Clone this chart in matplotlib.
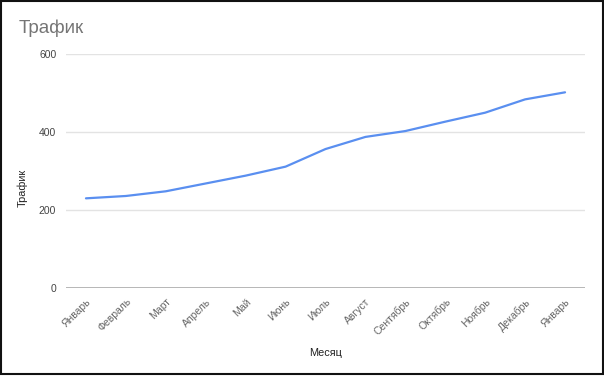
import matplotlib.pyplot as plt
from matplotlib.patches import Rectangle

plt.rcParams['font.family'] = ['Liberation Sans', 'DejaVu Sans']

months = ['Январь', 'Февраль', 'Март', 'Апрель', 'Май', 'Июнь', 'Июль',
          'Август', 'Сентябрь', 'Октябрь', 'Ноябрь', 'Декабрь', 'Январь']
traffic = [230, 236, 248, 268, 288, 311, 356, 387, 402, 426, 449, 483, 501]
y_ticks = [0, 200, 400, 600]

W, H = 604, 377
fig = plt.figure(figsize=(W / 100, H / 100), dpi=100)
ax = fig.add_axes([66 / W, 1 - 288.3 / H, 519 / W, 234.7 / H])

x = list(range(len(months)))
ax.plot(x, traffic, color='#5a8ff0', linewidth=1.6, solid_capstyle='round', zorder=3)

ax.set_xlim(-0.5, len(months) - 0.5)
ax.set_ylim(0, 600)
ax.set_yticks(y_ticks)
ax.set_yticklabels([str(v) for v in y_ticks], fontsize=7.5, color='#444444')
ax.set_xticks(x)
ax.set_xticklabels(months, rotation=45, ha='right', rotation_mode='anchor',
                   fontsize=7.5, color='#666666')
ax.tick_params(axis='both', length=0)
ax.tick_params(axis='y', pad=7)
ax.tick_params(axis='x', pad=6)

for s in ax.spines.values():
    s.set_visible(False)
for v in y_ticks[1:]:
    ax.axhline(v, color='#e3e3e3', linewidth=1.0, zorder=1)
ax.axhline(0, color='#aaaaaa', linewidth=1.2, zorder=2)

ax.set_xlabel('Месяц', fontsize=7.8, color='#222222', labelpad=8)
ax.set_ylabel('Трафик', fontsize=7.8, color='#222222')
ax.yaxis.set_label_coords(-38 / 519, 0.427)

fig.text(19 / W, 1 - 33 / H, 'Трафик', fontsize=13.5, color='#757575',
         ha='left', va='baseline')

# black screenshot frame
fig.patches.append(Rectangle((0.5 / W, 1 - 373.5 / H), 602.5 / W, 373 / H,
                             transform=fig.transFigure, fill=False,
                             edgecolor='#111111', linewidth=1.5))

fig.savefig('out.png', dpi=100)
